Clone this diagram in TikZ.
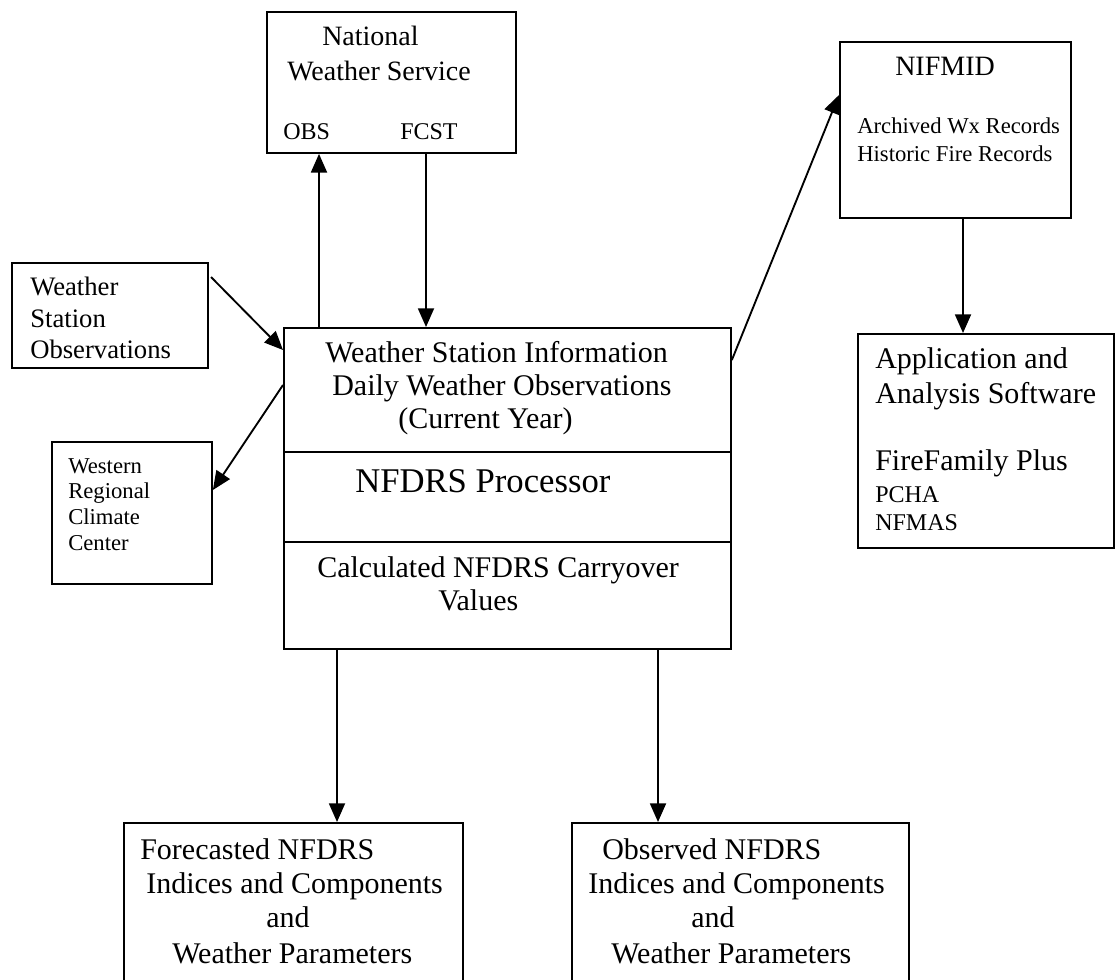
\documentclass[tikz,border=0pt]{standalone}
\usepackage{fontspec}
\setmainfont{Liberation Serif}
\usetikzlibrary{arrows.meta}
\begin{document}
\begin{tikzpicture}[x=0.75pt,y=-0.75pt,
  box/.style={draw, line width=1.4pt, inner sep=0pt, anchor=north west},
  arr/.style={line width=1.4pt, -{Triangle[length=14pt,width=12pt]}},
  txt/.style={anchor=base west, inner sep=0pt},
  fbig/.style={font=\fontsize{26}{30}\selectfont},
  fmain/.style={font=\fontsize{22.5}{27}\selectfont},
  fnws/.style={font=\fontsize{21}{25}\selectfont},
  fwso/.style={font=\fontsize{20}{24}\selectfont},
  fmid/.style={font=\fontsize{18}{22}\selectfont},
  frec/.style={font=\fontsize{17}{21}\selectfont},
  fsmall/.style={font=\fontsize{17}{20}\selectfont}]
\useasboundingbox (0,0) rectangle (1117,979);
\clip (0,0) rectangle (1117,979);
% boxes
\node[box, minimum width=0.75*249pt, minimum height=0.75*141pt] (nws) at (266,11) {};
\node[box, minimum width=0.75*231pt, minimum height=0.75*176pt] (nifmid) at (839,41) {};
\node[box, minimum width=0.75*196pt, minimum height=0.75*105pt] (wso) at (11,262) {};
\node[box, minimum width=0.75*160pt, minimum height=0.75*142pt] (wrcc) at (51,441) {};
\node[box, minimum width=0.75*447pt, minimum height=0.75*124pt] (wsi) at (283,327) {};
\node[box, minimum width=0.75*447pt, minimum height=0.75*90pt] (proc) at (283,451) {};
\node[box, minimum width=0.75*447pt, minimum height=0.75*107pt] (carry) at (283,541) {};
\node[box, minimum width=0.75*256pt, minimum height=0.75*214pt] (app) at (857,333) {};
\node[box, minimum width=0.75*339pt, minimum height=0.75*175pt] (fore) at (123,822) {};
\node[box, minimum width=0.75*337pt, minimum height=0.75*175pt] (obsv) at (571,822) {};
% texts
\node[txt, fnws] (t1) at (322,45) {National};
\node[txt, fnws] (t2) at (287,80) {Weather Service};
\node[txt, fmid] (t3) at (283,139) {OBS};
\node[txt, fmid] (t4) at (400,139) {FCST};
\node[txt, fnws] (t5) at (895,75) {NIFMID};
\node[txt, frec] (t6) at (857,133) {Archived Wx Records};
\node[txt, frec] (t7) at (857,161) {Historic Fire Records};
\node[txt, fwso] (t8) at (30,295) {Weather};
\node[txt, fwso] (t9) at (30,327) {Station};
\node[txt, fwso] (t10) at (30,358) {Observations};
\node[txt, fsmall] (t11) at (68,473) {Western};
\node[txt, fsmall] (t12) at (68,498) {Regional};
\node[txt, fsmall] (t13) at (68,524) {Climate};
\node[txt, fsmall] (t14) at (68,550) {Center};
\node[txt, fmain] (t15) at (325,362) {Weather Station Information};
\node[txt, fmain] (t16) at (332,395) {Daily Weather Observations};
\node[txt, fmain] (t17) at (398,428) {(Current Year)};
\node[txt, fbig] (t18) at (355,492) {NFDRS Processor};
\node[txt, fmain] (t19) at (317,577) {Calculated NFDRS Carryover};
\node[txt, fmain] (t20) at (438,610) {Values};
\node[txt, fmain] (t21) at (875,368) {Application and};
\node[txt, fmain] (t22) at (875,403) {Analysis Software};
\node[txt, fmain] (t23) at (875,470) {FireFamily Plus};
\node[txt, fmid] (t24) at (875,502) {PCHA};
\node[txt, fmid] (t25) at (875,530) {NFMAS};
\node[txt, fmain] (t26) at (140,859) {Forecasted NFDRS};
\node[txt, fmain] (t27) at (146,893) {Indices and Components};
\node[txt, fmain] (t28) at (266,927) {and};
\node[txt, fmain] (t29) at (172,963) {Weather Parameters};
\node[txt, fmain] (t30) at (602,859) {Observed NFDRS};
\node[txt, fmain] (t31) at (588,893) {Indices and Components};
\node[txt, fmain] (t32) at (691,927) {and};
\node[txt, fmain] (t33) at (611,963) {Weather Parameters};
% connector positions
\coordinate (xo) at (319,0);
\coordinate (xf) at (426,0);
\coordinate (xa) at (963,0);
\coordinate (xl) at (337,0);
\coordinate (xr) at (658,0);
\coordinate (xs) at (211,277);
\coordinate (y2) at (0,350);
\coordinate (y3) at (0,385);
\coordinate (y4) at (0,490);
\coordinate (y5) at (0,360);
\coordinate (y6) at (0,95);
% connectors
\draw[arr] (wsi.north -| xo) -- (nws.south -| xo);
\draw[arr] (nws.south -| xf) -- (wsi.north -| xf);
\draw[arr] (xs) -- (wsi.west |- y2);
\draw[arr] (wsi.west |- y3) -- (wrcc.east |- y4);
\draw[arr] (wsi.east |- y5) -- (nifmid.west |- y6);
\draw[arr] (nifmid.south -| xa) -- (app.north -| xa);
\draw[arr] (carry.south -| xl) -- (fore.north -| xl);
\draw[arr] (carry.south -| xr) -- (obsv.north -| xr);
\end{tikzpicture}
\end{document}
